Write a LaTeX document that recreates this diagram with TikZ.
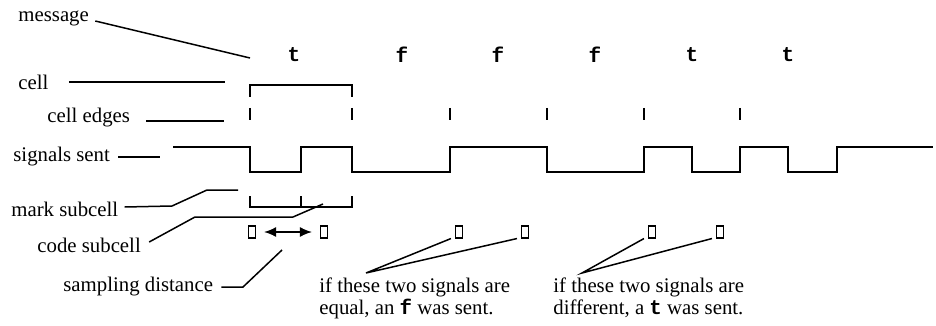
\documentclass[tikz,border=0pt]{standalone}
\usepackage{fontspec}
\setmainfont{Liberation Serif}
\setmonofont{Liberation Mono}
\usetikzlibrary{arrows.meta}
\begin{document}
\begin{tikzpicture}[x=0.5pt,y=-0.5pt,
  lbl/.style={inner sep=0pt,anchor=west,font=\fontsize{10.4}{11}\selectfont},
  msgbit/.style={inner sep=0pt,font=\fontsize{10.5}{10.5}\selectfont\ttfamily\bfseries},
  leader/.style={line width=0.75pt},
  sig/.style={line width=1.3pt},
  tickmark/.style={line width=0.7pt},
  smp/.style={draw,line width=0.55pt,inner sep=0pt,minimum width=3.5pt,minimum height=6pt}]
\useasboundingbox (0,0) rectangle (936,326);
% labels
\node[lbl] (msg) at (18,18) {message};
\node[lbl] (cell) at (18,82) {cell};
\node[lbl] (edges) at (47,118) {cell edges};
\node[lbl] (sent) at (13,157) {signals sent};
\node[lbl] (mark) at (11,209) {mark subcell};
\node[lbl] (code) at (37,245) {code subcell};
\node[lbl] (samp) at (63,287) {sampling distance};
\node[lbl,align=left] (eq) at (319,298) {if these two signals are\\equal, an \texttt{\textbf{f}} was sent.};
\node[lbl,align=left] (df) at (553,298) {if these two signals are\\different, a \texttt{\textbf{t}} was sent.};
% message bits
\node[msgbit] (b1) at (294,55) {t};
\node[msgbit] (b2) at (402,55) {f};
\node[msgbit] (b3) at (498,55) {f};
\node[msgbit] (b4) at (595,55) {f};
\node[msgbit] (b5) at (692,55) {t};
\node[msgbit] (b6) at (788,55) {t};
% coordinates
\coordinate (msgend) at (250,58);
\coordinate (cellend) at (225,82);
\coordinate (edgesend) at (224,121);
\coordinate (sentend) at (160,157);
\coordinate (m1) at (172,206); \coordinate (m2) at (207,190); \coordinate (markend) at (238,190);
\coordinate (c1) at (195,217); \coordinate (c2) at (293,217); \coordinate (codeend) at (323,204);
\coordinate (p1) at (243,287); \coordinate (sampend) at (282,250);
\coordinate (eqtip) at (366,273);
\coordinate (dftip) at (582,273);
% leaders
\draw[leader] ([xshift=3pt,yshift=-1.5pt]msg.east) -- (msgend);
\draw[leader] ([xshift=10pt]cell.east) -- (cellend);
\draw[leader] ([xshift=8pt,yshift=-1.5pt]edges.east) -- (edgesend);
\draw[leader] ([xshift=4pt]sent.east) -- (sentend);
\draw[leader] ([xshift=3pt,yshift=1pt]mark.east) -- (m1) -- (m2) -- (markend);
\draw[leader] ([xshift=4pt,yshift=1.5pt]code.east) -- (c1) -- (c2) -- (codeend);
\draw[leader] ([xshift=4pt]samp.east) -- (p1) -- (sampend);
% cell bracket
\draw[tickmark] (250,97) -- (250,85) -- (352,85) -- (352,97);
% cell edges
\foreach \x in {250,352,450,547,644,740} \draw[tickmark] (\x,108) -- (\x,120);
% signal
\draw[sig] (173,147) -- (250,147) -- (250,172) -- (301,172) -- (301,147) -- (352,147)
  -- (352,172) -- (450,172) -- (450,147) -- (547,147) -- (547,172) -- (644,172)
  -- (644,147) -- (692,147) -- (692,172) -- (740,172) -- (740,147) -- (788,147)
  -- (788,172) -- (837,172) -- (837,147) -- (933,147);
% subcell bracket
\draw[tickmark] (250,196) -- (250,207) -- (352,207) -- (352,196);
\draw[line width=1.2pt] (301,196) -- (301,207);
% sampling boxes
\node[smp] (s1) at (252,232) {};
\node[smp] (s2) at (324,232) {};
\draw[line width=0.8pt,{Latex[length=6pt,width=5pt]}-{Latex[length=6pt,width=5pt]}] ([xshift=4pt]s1.east) -- ([xshift=-4pt]s2.west);
\node[smp] (r1) at (459,232) {};
\node[smp] (r2) at (525,232) {};
\node[smp] (r3) at (652,232) {};
\node[smp] (r4) at (720,232) {};
\draw[leader] ([xshift=-2pt]r1.south west) -- (eqtip) -- ([xshift=-2pt]r2.south west);
\draw[leader] ([xshift=-2pt]r3.south west) -- (dftip) -- ([xshift=-2pt]r4.south west);
\end{tikzpicture}
\end{document}
